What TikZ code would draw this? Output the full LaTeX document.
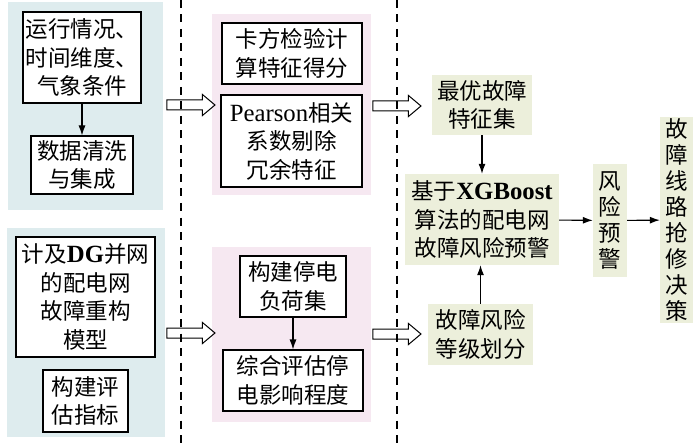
\documentclass[tikz,border=0pt]{standalone}
\usepackage{fontspec}
\setmainfont{Noto Sans CJK SC}
\newfontfamily\latin[Scale=1.1]{Liberation Serif}
\usetikzlibrary{arrows.meta,shapes.arrows}
\definecolor{panelblue}{RGB}{222,236,238}
\definecolor{panelpink}{RGB}{246,232,241}
\definecolor{resultgreen}{RGB}{236,239,219}

\begin{document}
\begin{tikzpicture}[x=1pt, y=-1pt,
  font=\fontsize{22.5}{28.5}\selectfont,
  panel/.style={inner sep=0pt},
  stepbox/.style={draw, line width=1.1pt, fill=white, inner sep=0pt, align=center},
  result/.style={fill=resultgreen, inner sep=0pt, align=center},
  upright/.style={result, font=\fontsize{22.5}{26}\selectfont},
  flow/.style={-{Latex[length=10pt,width=7pt]}, line width=1.1pt},
  hollow/.style={single arrow, draw, line width=1pt, inner sep=4.5pt,
                 single arrow head extend=5.5pt, single arrow tip angle=80,
                 minimum height=48pt},
  divider/.style={dash pattern=on 8pt off 6.5pt, line width=1.2pt}]
  \useasboundingbox (0,0) rectangle (700,446);

  % panels
  \node (inputtop) [panel, fill=panelblue, minimum width=155pt, minimum height=208pt] at (85.5,106) {};
  \node (inputbot) [panel, fill=panelblue, minimum width=158pt, minimum height=209pt] at (86,332.5) {};
  \node (midtop)   [panel, fill=panelpink, minimum width=159pt, minimum height=181pt] at (291.5,104.5) {};
  \node (midbot)   [panel, fill=panelpink, minimum width=159pt, minimum height=175pt] at (291.5,334.5) {};

  % left column
  \node (run) [stepbox, minimum width=118pt, minimum height=91pt] at (82,57.5)
        {运行情况、\\时间维度、\\气象条件};
  \node (clean) [stepbox, minimum width=102pt, minimum height=58pt] at (82,165)
        {数据清洗\\与集成};
  \node (dgmodel) [stepbox, minimum width=139pt, minimum height=120pt] at (85.5,297)
        {计及{\latin\bfseries DG}并网\\的配电网\\故障重构\\模型};
  \node (index) [stepbox, minimum width=85pt, minimum height=62pt] at (85.5,401)
        {构建评\\估指标};

  % middle column
  \node (chisq) [stepbox, minimum width=140pt, minimum height=61pt] at (292,53.5)
        {卡方检验计\\算特征得分};
  \node (pearson) [stepbox, minimum width=141pt, minimum height=92pt] at (291.5,141)
        {{\latin Pearson}相关\\系数剔除\\冗余特征};
  \node (load) [stepbox, minimum width=106pt, minimum height=61pt] at (293,286.5)
        {构建停电\\负荷集};
  \node (impact) [stepbox, minimum width=140pt, minimum height=61pt] at (293,380.5)
        {综合评估停\\电影响程度};

  % right part
  \node (optfeat) [result, minimum width=100pt, minimum height=60pt] at (482,105)
        {最优故障\\特征集};
  \node (xgb) [result, minimum width=154pt, minimum height=91pt] at (482,219.5)
        {基于{\latin\bfseries XGBoost}\\算法的配电网\\故障风险预警};
  \node (level) [result, minimum width=105pt, minimum height=61pt] at (480.5,334.5)
        {故障风险\\等级划分};
  \node (warn) [upright, minimum width=34pt, minimum height=113pt] at (610,220.5)
        {风\\险\\预\\警};
  \node (decision) [upright, minimum width=33pt, minimum height=206pt] at (676.5,220)
        {故\\障\\线\\路\\抢\\修\\决\\策};

  \draw[flow] (run)     -- (clean);
  \draw[flow] (load)    -- (impact);
  \draw[flow] (optfeat) -- (xgb);
  \draw[flow] (level.north) -- (level.north |- xgb.south);
  \draw[flow] (xgb)     -- (warn);
  \draw[flow] (warn)    -- (decision);

  % hollow arrows between stages
  \node (pass1) [hollow] at (188,105) {};
  \node (pass2) [hollow] at (188,333) {};
  \node (pass3) [hollow] at (394,106) {};
  \node (pass4) [hollow] at (394,334) {};

  \draw[divider] (181,0) -- (181,446);
  \draw[divider] (397,0) -- (397,446);
\end{tikzpicture}
\end{document}
